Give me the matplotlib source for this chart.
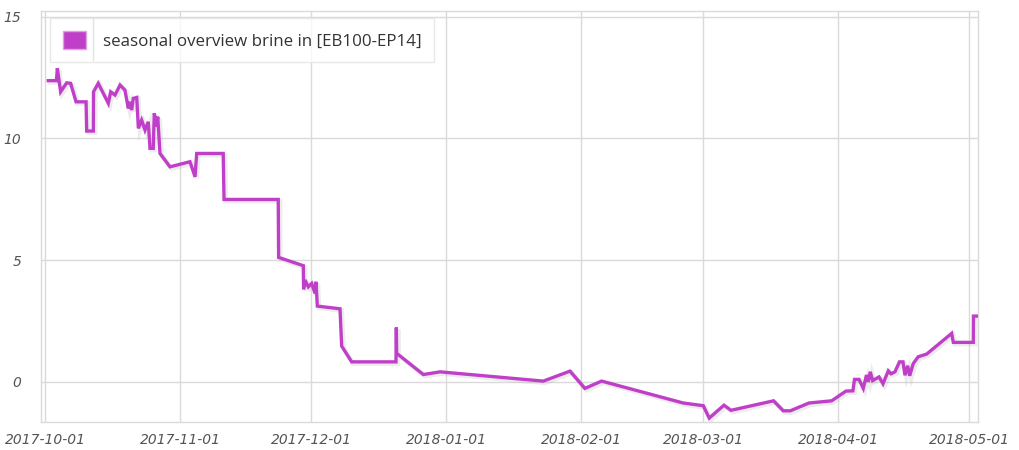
import matplotlib
matplotlib.use("Agg")
import matplotlib.pyplot as plt
import matplotlib.patheffects as pe
from matplotlib.patches import Patch
from matplotlib.lines import Line2D
import pandas as pd

times = [
    "2017-10-01 18:00", "2017-10-03 15:00", "2017-10-03 20:00", "2017-10-04 14:00",
    "2017-10-05 23:30", "2017-10-06 21:00", "2017-10-08 03:00", "2017-10-10 10:00",
    "2017-10-10 13:30", "2017-10-12 02:00", "2017-10-12 03:00", "2017-10-13 05:00",
    "2017-10-15 12:30", "2017-10-16 01:30", "2017-10-17 01:30", "2017-10-18 05:00",
    "2017-10-19 08:00", "2017-10-20 02:30", "2017-10-20 12:00", "2017-10-20 21:00",
    "2017-10-21 06:00", "2017-10-22 01:00", "2017-10-22 10:00", "2017-10-23 04:00",
    "2017-10-23 22:30", "2017-10-24 16:30", "2017-10-25 02:00", "2017-10-25 20:00",
    "2017-10-26 01:30", "2017-10-26 15:00", "2017-10-26 20:30", "2017-10-27 09:00",
    "2017-10-29 16:00", "2017-11-03 06:00", "2017-11-04 10:00", "2017-11-04 19:00",
    "2017-11-10 21:00", "2017-11-11 01:30", "2017-11-23 12:00", "2017-11-23 14:00",
    "2017-11-29 06:00", "2017-11-29 07:30", "2017-11-29 15:00", "2017-11-30 09:30",
    "2017-12-01 04:00", "2017-12-01 22:30", "2017-12-02 04:00", "2017-12-02 11:00",
    "2017-12-07 16:00", "2017-12-08 01:00", "2017-12-10 08:00", "2017-12-20 12:00",
    "2017-12-20 14:00", "2017-12-20 16:00", "2017-12-26 18:30", "2017-12-30 14:30",
    "2018-01-23 07:00", "2018-01-29 10:00", "2018-02-01 20:00", "2018-02-05 16:00",
    "2018-02-24 09:30", "2018-02-28 23:30", "2018-03-02 08:30", "2018-03-05 17:30",
    "2018-03-07 08:00", "2018-03-17 02:30", "2018-03-19 08:00", "2018-03-20 22:30",
    "2018-03-25 05:30", "2018-03-30 10:30", "2018-04-02 17:00", "2018-04-04 07:30",
    "2018-04-04 16:00", "2018-04-05 17:00", "2018-04-06 16:30", "2018-04-07 10:00",
    "2018-04-07 20:00", "2018-04-08 07:00", "2018-04-08 20:00", "2018-04-10 07:00",
    "2018-04-11 05:00", "2018-04-12 10:00", "2018-04-13 01:00", "2018-04-13 23:00",
    "2018-04-14 23:30", "2018-04-15 19:00", "2018-04-16 06:00", "2018-04-16 21:00",
    "2018-04-17 08:00", "2018-04-18 03:30", "2018-04-19 07:00", "2018-04-21 05:30",
    "2018-04-26 23:00", "2018-04-27 08:00", "2018-05-01 22:00", "2018-05-01 23:00",
    "2018-05-02 18:00",
]
values = [
    12.37, 12.37, 12.88, 11.91,
    12.28, 12.26, 11.50, 11.50,
    10.30, 10.30, 11.91, 12.26,
    11.44, 11.91, 11.78, 12.19,
    11.98, 11.23, 11.50, 11.16,
    11.64, 11.68, 10.41, 10.75,
    10.34, 10.68, 9.59, 9.59,
    11.03, 10.48, 10.89, 9.38,
    8.83, 9.04, 8.42, 9.38,
    9.38, 7.49, 7.49, 5.11,
    4.77, 3.80, 4.18, 3.90,
    4.04, 3.63, 4.11, 3.11,
    3.00, 1.47, 0.82, 0.82,
    2.23, 1.17, 0.30, 0.41,
    0.03, 0.44, -0.27, 0.03,
    -0.87, -0.98, -1.49, -0.96,
    -1.17, -0.78, -1.19, -1.19,
    -0.87, -0.78, -0.38, -0.37,
    0.10, 0.10, -0.27, 0.28,
    0.00, 0.41, 0.05, 0.20,
    -0.08, 0.45, 0.33, 0.41,
    0.82, 0.82, 0.27, 0.66,
    0.25, 0.75, 1.03, 1.14,
    1.99, 1.62, 1.62, 2.70,
    2.70,
]
series_label = "seasonal overview brine in [EB100-EP14]"
x_ticks = ["2017-10-01", "2017-11-01", "2017-12-01", "2018-01-01",
           "2018-02-01", "2018-03-01", "2018-04-01", "2018-05-01"]
y_ticks = [0, 5, 10, 15]

line_color = "#c03fc8"
grid_color = "#dadada"
text_color = "#545454"

fig = plt.figure(figsize=(10.2, 4.5), dpi=100)
ax = fig.add_axes([41/1020, 1 - 422/450, (978 - 41)/1020, (422 - 11)/450])

t = pd.to_datetime(times)
ax.plot(t, values, color=line_color, linewidth=2.4, solid_joinstyle="miter",
        path_effects=[pe.SimpleLineShadow(offset=(1.2, -1.2), shadow_color="#999999", alpha=0.18, linewidth=3.5),
                      pe.Normal()], zorder=3)

ax.set_xlim(pd.Timestamp("2017-09-30 02:00"), pd.Timestamp("2018-05-03 00:00"))
ax.set_ylim(-1.65, 15.23)

xt = pd.to_datetime(x_ticks)
ax.set_xticks(xt)
ax.set_xticklabels(x_ticks)
ax.set_yticks(y_ticks)
ax.set_yticklabels([str(v) for v in y_ticks])

ax.grid(True, color=grid_color, linewidth=1)
ax.tick_params(length=0, colors=text_color, labelsize=10)
ax.tick_params(axis="x", pad=8)
ax.tick_params(axis="y", pad=14)
for lab in ax.get_xticklabels() + ax.get_yticklabels():
    lab.set_fontstyle("italic")
    lab.set_color(text_color)
for s in ax.spines.values():
    s.set_color(grid_color)
    s.set_linewidth(1)

handle = Patch(facecolor=line_color, edgecolor="#e0a0e4", linewidth=1)
leg = ax.legend([handle], [series_label], loc="upper left",
                bbox_to_anchor=(9/937, 1 - 7/411), borderaxespad=0,
                frameon=True, fancybox=False, handlelength=1.4, handleheight=1.25,
                handletextpad=0.95, borderpad=0.75,
                prop={"family": "Open Sans", "size": 12.2})
leg.get_frame().set_edgecolor("#e3e3e3")
leg.get_frame().set_linewidth(1)
for txt in leg.get_texts():
    txt.set_color("#333333")

fig.add_artist(Line2D([93/1020, 93/1020], [1 - 18/450, 1 - 60/450], color="#e3e3e3", linewidth=1))

fig.savefig("out.png", dpi=100)
